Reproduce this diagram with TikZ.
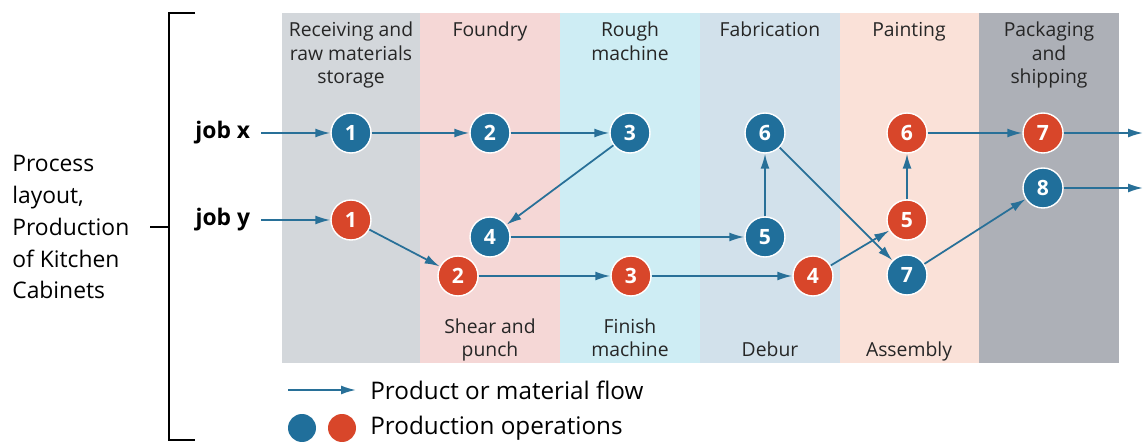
\documentclass[tikz,border=0pt]{standalone}
\usepackage{fontspec}
\setmainfont{Open Sans}
\usetikzlibrary{arrows.meta,positioning}

\definecolor{opblue}{RGB}{32,111,155}
\definecolor{opred}{RGB}{216,70,42}
\definecolor{flowblue}{RGB}{40,112,152}
\definecolor{bandA}{RGB}{211,215,219}
\definecolor{bandB}{RGB}{245,215,214}
\definecolor{bandC}{RGB}{206,237,244}
\definecolor{bandD}{RGB}{210,225,235}
\definecolor{bandE}{RGB}{250,225,216}
\definecolor{bandF}{RGB}{173,176,183}

\begin{document}
\begin{tikzpicture}[x=0.02cm, y=-0.02cm,
  flow/.style={-{Latex[length=3mm, width=1.8mm]}, line width=1pt, draw=flowblue},
  opx/.style={circle, fill=opblue, draw=white, line width=0.8pt, minimum size=0.8cm,
    inner sep=0pt, text=white, font=\fontsize{12}{14}\selectfont\bfseries},
  opy/.style={opx, fill=opred},
  head/.style={font=\fontsize{11}{13.4}\selectfont, align=center, text=black!85, inner sep=0pt},
  big/.style={font=\fontsize{13}{18.2}\selectfont, inner sep=0pt},
  legtext/.style={font=\fontsize{13.8}{18.2}\selectfont, inner sep=0pt},
]
\useasboundingbox (0,0) rectangle (1143,445);

% === DEPARTMENT BANDS ===
\foreach \xa/\xb/\col in {282/420/bandA, 420/560/bandB, 560/700/bandC,
                          700/840/bandD, 840/979/bandE, 979/1119/bandF}
  \fill[\col] (\xa,13) rectangle (\xb,363);

\node[head, anchor=north] (hrecv) at (351,20) {\strut Receiving and\\raw materials\\storage};
\node[head, anchor=north] (hfound) at (490,20) {\strut Foundry};
\node[head, anchor=north] (hrough) at (630,20) {\strut Rough\\machine};
\node[head, anchor=north] (hfab) at (770,20) {\strut Fabrication};
\node[head, anchor=north] (hpaint) at (909,20) {\strut Painting};
\node[head, anchor=north] (hpack) at (1049,20) {\strut Packaging\\and\\shipping};

\node[head, anchor=south] (lshear) at (490,364) {Shear and\\punch\strut};
\node[head, anchor=south] (lfinish) at (630,364) {Finish\\machine\strut};
\node[head, anchor=south] (ldebur) at (770,364) {Debur\strut};
\node[head, anchor=south] (lassem) at (909,364) {Assembly\strut};

% === TITLE AND BRACKET ===
\node[big, anchor=west, align=left] (title) at (12,227)
  {Process\\layout,\\Production\\of Kitchen\\Cabinets};
\draw[line width=0.9pt] (195,13) -- (169,13) -- (169,440) -- (195,440);
\draw[line width=0.9pt] (150,227) -- (169,227);

% === JOBS ===
\node[big, font=\fontsize{13}{18.2}\selectfont\bfseries, anchor=east, inner xsep=6pt] (jobx) at (261,133) {job x};
\node[big, font=\fontsize{13}{18.2}\selectfont\bfseries, anchor=east, inner xsep=6pt] (joby) at (261,220) {job y};

% job x operations (blue)
\node[opx] (x1) at (351,133) {1};
\node[opx] (x2) at (490,133) {2};
\node[opx] (x3) at (630,133) {3};
\node[opx] (x4) at (490,237) {4};
\node[opx] (x5) at (765,237) {5};
\node[opx] (x6) at (765,133) {6};
\node[opx] (x7) at (907,275) {7};
\node[opx] (x8) at (1043,188) {8};

% job y operations (red)
\node[opy] (y1) at (351,220) {1};
\node[opy] (y2) at (458,276) {2};
\node[opy] (y3) at (631,276) {3};
\node[opy] (y4) at (813,276) {4};
\node[opy] (y5) at (907,220) {5};
\node[opy] (y6) at (907,133) {6};
\node[opy] (y7) at (1043,133) {7};

\coordinate (outx) at (1143,188);
\coordinate (outy) at (1143,133);

\draw[flow] (jobx) -- (x1);
\draw[flow] (x1) -- (x2);
\draw[flow] (x2) -- (x3);
\draw[flow] (x3) -- (x4);
\draw[flow] (x4) -- (x5);
\draw[flow] (x5) -- (x6);
\draw[flow] (x6) -- (x7);
\draw[flow] (x7) -- (x8);
\draw[flow] (x8) -- (outx);

\draw[flow] (joby) -- (y1);
\draw[flow] (y1) -- (y2);
\draw[flow] (y2) -- (y3);
\draw[flow] (y3) -- (y4);
\draw[flow] (y4) -- (y5);
\draw[flow] (y5) -- (y6);
\draw[flow] (y6) -- (y7);
\draw[flow] (y7) -- (outy);

% === LEGEND ===
\coordinate (legfrom) at (288,390);
\coordinate (legto) at (356,390);
\draw[flow] (legfrom) -- (legto);
\node[legtext, anchor=west] (legflow) at (370,390) {Product or material flow};
\node[opx, draw=none, minimum size=0.56cm] (legx) at (302,428) {};
\node[opy, draw=none, minimum size=0.56cm] (legy) at (342,428) {};
\node[legtext, anchor=west] (legops) at (370,428) {Production operations};
\end{tikzpicture}
\end{document}
